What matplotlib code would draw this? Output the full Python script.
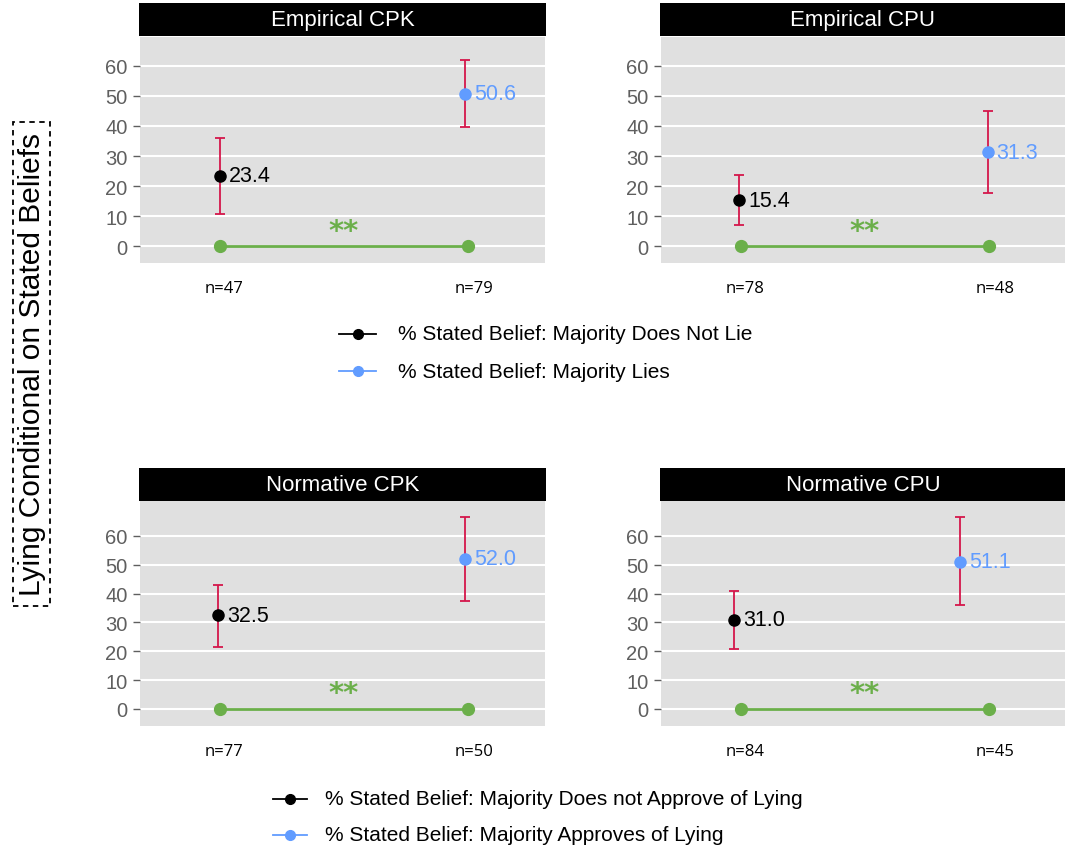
import matplotlib
matplotlib.use("Agg")
import matplotlib.pyplot as plt
from matplotlib.lines import Line2D
from matplotlib.patches import Rectangle

plt.rcParams['font.family'] = ['Liberation Sans', 'DejaVu Sans']

# lying rates (%) with 95% intervals, per treatment
panels = ["Empirical CPK", "Empirical CPU", "Normative CPK", "Normative CPU"]
no_lie = [23.4, 15.4, 32.5, 31.0]
no_lie_lo = [10.9, 7.2, 21.5, 20.7]
no_lie_hi = [36.0, 23.7, 43.0, 40.9]
lie = [50.6, 31.3, 52.0, 51.1]
lie_lo = [39.5, 17.7, 37.6, 35.9]
lie_hi = [61.9, 44.8, 66.4, 66.4]
n_no_lie = [47, 78, 77, 84]
n_lie = [79, 48, 50, 45]
sig = ["**", "**", "**", "**"]
yticks = [0, 10, 20, 30, 40, 50, 60]
legend_top = ["% Stated Belief: Majority Does Not Lie", "% Stated Belief: Majority Lies"]
legend_bottom = ["% Stated Belief: Majority Does not Approve of Lying",
                 "% Stated Belief: Majority Approves of Lying"]
ylabel = "Lying Conditional on Stated Beliefs"

# small horizontal shift of the belief points
shift_no = [0.0, -0.005, -0.005, -0.025]
shift_yes = [-0.01, -0.005, -0.01, -0.115]

BLACK = "black"
BLUE = "#619CFF"
GREEN = "#6BAF4A"
RED = "#D4174B"
PANEL = "#E0E0E0"
TICK = "#5F5F5F"

W, H = 1065, 854
fig = plt.figure(figsize=(W / 100, H / 100), dpi=100)


def box(x0, y0, x1, y1):
    return [x0 / W, 1 - y1 / H, (x1 - x0) / W, (y1 - y0) / H]


plot_boxes = [(140, 38, 545, 264), (661, 38, 1066, 264),
              (140, 502, 545, 727), (661, 502, 1066, 727)]
head_boxes = [(139, 4, 546, 37), (660, 4, 1066, 37),
              (139, 469, 546, 502), (660, 469, 1066, 502)]
ylims = [(-5.5, 69.5), (-5.5, 69.5), (-5.9, 72.1), (-5.9, 72.1)]

for i in range(4):
    ax = fig.add_axes(box(*plot_boxes[i]))
    ax.set_facecolor(PANEL)
    for s in ax.spines.values():
        s.set_visible(False)
    ax.set_xlim(0.68, 2.31)
    ax.set_ylim(*ylims[i])
    ax.set_yticks(yticks)
    ax.set_xticks([])
    ax.tick_params(axis='y', length=5, width=1, color=TICK, labelcolor=TICK,
                   labelsize=14.5, pad=4)
    ax.grid(axis='y', color='white', linewidth=1.5)
    ax.set_axisbelow(True)

    # zero reference line between the two groups
    ax.plot([1, 2], [0, 0], color=GREEN, lw=2, marker='o', ms=8.5, zorder=3)
    ax.text(1.5, 0.6, sig[i], color=GREEN, fontsize=21, fontweight='bold',
            ha='center', va='bottom', family='DejaVu Sans')

    xa = 1 + shift_no[i]
    xb = 2 + shift_yes[i]
    ax.errorbar([xa], [no_lie[i]],
                yerr=[[no_lie[i] - no_lie_lo[i]], [no_lie_hi[i] - no_lie[i]]],
                fmt='none', ecolor=RED, elinewidth=1.3, capsize=3.4, capthick=1.3, zorder=4)
    ax.errorbar([xb], [lie[i]],
                yerr=[[lie[i] - lie_lo[i]], [lie_hi[i] - lie[i]]],
                fmt='none', ecolor=RED, elinewidth=1.3, capsize=3.4, capthick=1.3, zorder=4)
    ax.plot([xa], [no_lie[i]], 'o', color=BLACK, ms=8, zorder=5)
    ax.plot([xb], [lie[i]], 'o', color=BLUE, ms=8, zorder=5)
    ax.annotate(f"{no_lie[i]:.1f}", (xa, no_lie[i]), xytext=(9, 0),
                textcoords='offset pixels', ha='left', va='center',
                fontsize=15.5, color=BLACK)
    ax.annotate(f"{lie[i]:.1f}", (xb, lie[i]), xytext=(9, 0),
                textcoords='offset pixels', ha='left', va='center',
                fontsize=15.5, color=BLUE)

    # sample sizes under each group
    for xn, n in [(1.02, n_no_lie[i]), (2.025, n_lie[i])]:
        ax.annotate(f"n={n}", (xn, 0), xycoords=('data', 'axes fraction'),
                    xytext=(0, -25), textcoords='offset pixels',
                    ha='center', va='center', fontsize=12, family='Open Sans')

    hx = fig.add_axes(box(*head_boxes[i]))
    hx.set_facecolor('black')
    hx.set_xticks([])
    hx.set_yticks([])
    for s in hx.spines.values():
        s.set_visible(False)
    hx.text(0.5, 0.5, panels[i], color='white', fontsize=16,
            ha='center', va='center', transform=hx.transAxes)


def legend_block(labels, x_line, x_text, ys):
    colors = [BLACK, BLUE]
    for lab, c, y in zip(labels, colors, ys):
        fy = 1 - y / H
        fig.add_artist(Line2D([x_line[0] / W, x_line[1] / W], [fy, fy],
                              color=c, lw=1.3, transform=fig.transFigure))
        fig.add_artist(Line2D([(x_line[0] + x_line[1]) / 2 / W], [fy],
                              marker='o', ms=7, color=c, transform=fig.transFigure))
        fig.text(x_text / W, fy, lab, fontsize=15, ha='left', va='center')


legend_block(legend_top, (339, 376), 398, (335, 372))
legend_block(legend_bottom, (273, 307), 325, (800, 836))

# left side label in a dashed frame
fig.text(32 / W, 1 - 365 / H, ylabel, rotation=90, fontsize=21.5,
         ha='center', va='center')
fig.add_artist(Rectangle((13 / W, 1 - 607 / H), 37 / W, 484 / H,
                         fill=False, edgecolor='black', lw=1.3,
                         linestyle=(0, (3, 2.5)), transform=fig.transFigure))

fig.savefig("out.png", dpi=100)
